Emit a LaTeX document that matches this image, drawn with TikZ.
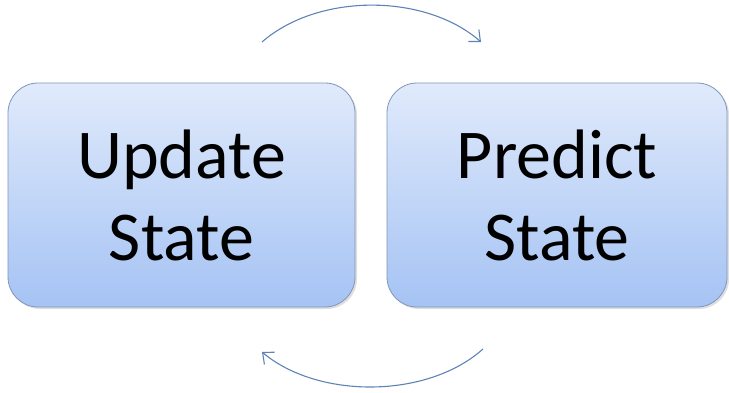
\documentclass[tikz,border=0pt]{standalone}
\usepackage{fontspec}
\setmainfont{Carlito}
\usetikzlibrary{arrows.meta,shadows}
\definecolor{boxtop}{HTML}{E0EAFB}
\definecolor{boxbot}{HTML}{A5C3F4}
\definecolor{boxline}{HTML}{8196BA}
\definecolor{arcblue}{HTML}{5F83B8}
\tikzset{
  statebox/.style={draw=boxline, line width=0.8pt, rounded corners=30pt,
    top color=boxtop, bottom color=boxbot,
    drop shadow={shadow xshift=2pt, shadow yshift=-2pt, opacity=0.25},
    align=center, font=\fontsize{70}{82}\selectfont, text=black},
  cyclearc/.style={draw=arcblue, line width=1.1pt,
    -{Straight Barb[length=9pt,width=16pt,line width=1.1pt]}}
}
\begin{document}
\begin{tikzpicture}[x=1pt,y=1pt]
  \useasboundingbox[fill=white] (0,0) rectangle (729,392);
  \node[statebox, minimum width=347pt, minimum height=224pt] (upd) at (181.5,197)
    {Update\\State};
  \node[statebox, minimum width=340pt, minimum height=224pt] (pred) at (557,197)
    {Predict\\State};
  \coordinate (ta) at (262,350);
  \coordinate (tb) at (481,350);
  \coordinate (ba) at (483,43);
  \coordinate (bb) at (262,40);
  \draw[cyclearc] (ta) .. controls (318,399) and (425,399) .. (tb);
  \draw[cyclearc] (ba) .. controls (427,-7) and (318,-7) .. (bb);
\end{tikzpicture}
\end{document}
